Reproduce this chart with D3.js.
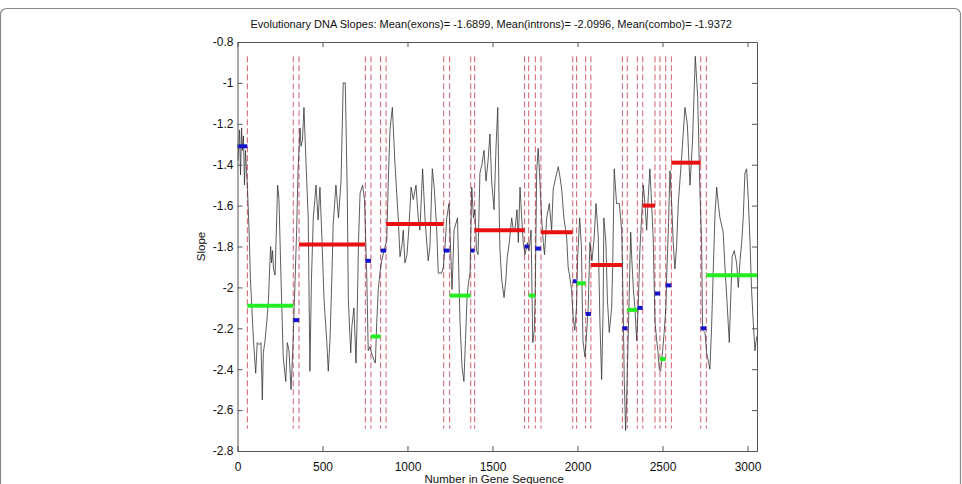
<!DOCTYPE html>
<html>
<head>
<meta charset="utf-8">
<script src="https://cdn.jsdelivr.net/npm/d3@7"></script>
<style>
  body { margin: 0; background: #fff; }
  svg { display: block; font-family: "Liberation Sans", Arial, sans-serif; }
</style>
</head>
<body>
<script>
// slope trace (position in gene sequence, slope)
var seqPos = [3, 12, 18, 24, 29, 35, 41, 47, 53, 59, 68, 76, 85, 94, 107, 116, 126, 138, 146, 152,
  162, 172, 182, 191, 195, 200, 206, 212, 221, 236, 244, 256, 269, 284, 293, 303, 315, 325, 335, 348,
  356, 368, 374, 382, 391, 403, 416, 426, 435, 446, 462, 474, 485, 497, 509, 525, 534, 544, 554, 563,
  579, 594, 609, 622, 634, 646, 652, 666, 673, 685, 697, 703, 712, 721, 736, 747, 760, 769, 779, 788,
  805, 811, 819, 828, 838, 848, 862, 878, 887, 897, 911, 926, 946, 956, 968, 975, 985, 997, 1009, 1021,
  1034, 1050, 1063, 1073, 1089, 1103, 1113, 1122, 1132, 1146, 1158, 1172, 1181, 1201, 1211, 1221, 1231, 1244, 1262, 1274,
  1294, 1309, 1321, 1332, 1341, 1350, 1358, 1368, 1378, 1388, 1397, 1406, 1415, 1426, 1438, 1450, 1462, 1474, 1485, 1495,
  1509, 1521, 1531, 1540, 1544, 1554, 1568, 1579, 1587, 1599, 1613, 1621, 1632, 1644, 1652, 1662, 1672, 1681, 1691, 1707,
  1715, 1727, 1737, 1746, 1752, 1760, 1769, 1779, 1789, 1799, 1806, 1819, 1834, 1848, 1857, 1873, 1887, 1897, 1907, 1920,
  1936, 1945, 1955, 1965, 1974, 1984, 1994, 2001, 2013, 2023, 2032, 2044, 2054, 2063, 2073, 2085, 2097, 2109, 2122, 2132,
  2142, 2151, 2155, 2167, 2176, 2187, 2201, 2207, 2216, 2230, 2246, 2260, 2269, 2275, 2283, 2289, 2298, 2313, 2320, 2329,
  2338, 2348, 2357, 2367, 2377, 2387, 2397, 2407, 2416, 2426, 2436, 2445, 2456, 2466, 2473, 2481, 2489, 2501, 2510, 2520,
  2526, 2534, 2544, 2554, 2563, 2573, 2583, 2593, 2613, 2632, 2646, 2653, 2662, 2677, 2693, 2707, 2720, 2730, 2736, 2750,
  2760, 2779, 2789, 2799, 2809, 2819, 2828, 2838, 2857, 2868, 2879, 2893, 2903, 2910, 2922, 2936, 2946, 2956, 2966, 2975,
  2985, 2995, 3005, 3015, 3024, 3034, 3044, 3054];
var slopeVals = [-1.38, -1.23, -1.45, -1.22, -1.33, -1.26, -1.50, -1.33, -1.43, -1.52, -1.72, -1.96, -2.11, -2.26, -2.42, -2.27, -2.28, -2.27, -2.55, -2.32,
  -2.26, -2.17, -2.06, -1.87, -1.80, -1.88, -1.82, -1.91, -1.94, -1.50, -1.57, -1.96, -2.34, -2.46, -2.27, -2.31, -2.50, -2.31, -2.06, -1.72,
  -1.43, -1.22, -1.31, -1.28, -1.12, -1.39, -1.66, -2.41, -1.96, -1.66, -1.50, -1.67, -1.51, -1.77, -2.06, -2.26, -2.41, -2.26, -1.98, -1.69,
  -1.50, -1.66, -1.48, -1.00, -1.00, -1.56, -2.06, -2.32, -2.19, -2.10, -2.37, -2.18, -1.77, -1.54, -1.50, -1.57, -1.93, -2.31, -2.29, -2.32,
  -2.36, -2.37, -2.17, -2.01, -1.93, -1.87, -1.82, -1.77, -1.48, -1.23, -1.12, -1.39, -1.67, -1.85, -1.79, -1.72, -1.88, -1.84, -1.70, -1.51,
  -1.57, -1.50, -1.66, -1.72, -1.42, -1.66, -1.78, -1.87, -1.80, -1.42, -1.52, -1.72, -1.93, -1.93, -1.90, -1.80, -1.66, -1.59, -2.01, -1.72,
  -1.66, -2.17, -2.39, -2.46, -2.26, -2.06, -1.98, -1.93, -1.51, -1.66, -1.62, -1.82, -1.84, -1.44, -1.40, -1.33, -1.48, -1.38, -1.25, -1.48,
  -1.62, -1.31, -1.12, -1.66, -1.82, -1.96, -2.05, -1.96, -1.85, -1.78, -1.66, -1.71, -1.72, -1.62, -1.78, -1.51, -1.66, -1.78, -1.84, -1.78,
  -1.82, -1.72, -2.27, -2.21, -2.00, -1.43, -1.32, -1.48, -1.66, -1.78, -1.84, -1.66, -1.59, -1.72, -1.52, -1.46, -1.41, -1.46, -1.52, -1.66,
  -1.75, -1.90, -1.95, -2.01, -2.14, -2.21, -2.10, -1.85, -1.66, -1.80, -2.26, -2.34, -2.22, -2.10, -1.78, -1.87, -1.77, -1.59, -1.75, -2.17,
  -2.45, -2.10, -1.66, -1.78, -2.06, -2.22, -2.10, -1.90, -1.42, -1.59, -1.59, -1.72, -2.10, -2.45, -2.70, -2.55, -2.26, -1.73, -1.87, -2.01,
  -2.10, -2.26, -2.10, -1.82, -1.66, -1.50, -1.59, -1.72, -1.56, -1.42, -1.59, -1.75, -2.17, -2.26, -2.31, -2.40, -2.41, -2.31, -2.22, -2.10,
  -1.91, -1.73, -1.43, -1.59, -1.78, -1.91, -1.80, -1.59, -1.36, -1.12, -1.20, -1.33, -1.50, -1.28, -0.87, -1.07, -1.52, -1.78, -2.21, -2.22,
  -2.32, -2.40, -2.19, -1.91, -1.64, -1.51, -1.59, -1.66, -1.73, -1.91, -2.06, -2.27, -2.01, -1.85, -1.82, -1.88, -2.00, -1.87, -1.78, -1.66,
  -1.44, -1.42, -1.57, -1.78, -2.01, -2.17, -2.31, -2.24];

// segment means: exons (red), introns (green), junctions (blue)
var exonStart = [362, 874, 1395, 1785, 2079, 2384, 2552];
var exonEnd = [752, 1213, 1689, 1972, 2264, 2456, 2725];
var exonMean = [-1.79, -1.69, -1.72, -1.73, -1.89, -1.60, -1.39];

var intronStart = [58, 785, 1248, 1713, 1995, 2293, 2485, 2758];
var intronEnd = [328, 842, 1372, 1752, 2048, 2352, 2519, 3056];
var intronMean = [-2.09, -2.24, -2.04, -2.04, -1.98, -2.11, -2.35, -1.94];

var junctionStart = [0, 328, 752, 842, 1213, 1372, 1689, 1752, 1972, 2048, 2264, 2352, 2456, 2519, 2725];
var junctionEnd = [58, 362, 785, 874, 1248, 1395, 1713, 1785, 1995, 2079, 2293, 2384, 2485, 2552, 2758];
var junctionMean = [-1.31, -2.16, -1.87, -1.82, -1.82, -1.82, -1.80, -1.81, -1.97, -2.13, -2.20, -2.10, -2.03, -1.99, -2.20];

// boundaries (dashed)
var boundaries = [58, 328, 362, 752, 785, 842, 874, 1213, 1248, 1372, 1395, 1689, 1713, 1752, 1785,
  1972, 1995, 2048, 2079, 2264, 2293, 2352, 2384, 2456, 2485, 2519, 2552, 2725, 2758];
var boundaryTop = -0.87, boundaryBottom = -2.69;

var xTicks = [0, 500, 1000, 1500, 2000, 2500, 3000];
var yTicks = [-2.8, -2.6, -2.4, -2.2, -2, -1.8, -1.6, -1.4, -1.2, -1, -0.8];

var titleText = "Evolutionary DNA Slopes: Mean(exons)= -1.6899, Mean(introns)= -2.0996, Mean(combo)= -1.9372";

var W = 962, H = 484;
var margin = {left: 237.5, top: 42, right: 962 - 757, bottom: 484 - 451};
var w = W - margin.left - margin.right, h = H - margin.top - margin.bottom;

var svg = d3.select("body").append("svg")
  .attr("width", W)
  .attr("height", H);

// outer frame
svg.append("rect")
  .attr("x", 0.5).attr("y", 8.5)
  .attr("width", 960).attr("height", 520)
  .attr("rx", 6)
  .attr("fill", "none")
  .attr("stroke", "#8a8a8a")
  .attr("stroke-width", 1.2);

var g = svg.append("g")
  .attr("transform", "translate(" + margin.left + "," + margin.top + ")");

var x = d3.scaleLinear().domain([0, 3056]).range([0, w]);
var y = d3.scaleLinear().domain([-2.8, -0.8]).range([h, 0]);

var fmt = function(d) { return String(+d.toFixed(1)); };

// dashed boundaries
g.selectAll(".bound")
  .data(boundaries)
  .enter().append("line")
    .attr("class", "bound")
    .attr("x1", d => x(d)).attr("x2", d => x(d))
    .attr("y1", y(boundaryTop)).attr("y2", y(boundaryBottom))
    .attr("stroke", "#cc4d5e")
    .attr("stroke-width", 0.9)
    .attr("stroke-dasharray", "6,3");

// slope trace
var pts = seqPos.map((p, i) => [p, slopeVals[i]]);
g.append("path")
  .datum(pts)
  .attr("fill", "none")
  .attr("stroke", "#333")
  .attr("stroke-width", 0.8)
  .attr("d", d3.line().x(d => x(d[0])).y(d => y(d[1])));

function bars(starts, ends, means, colour) {
  g.append("g").selectAll("line")
    .data(means)
    .enter().append("line")
      .attr("x1", (d, i) => x(starts[i]))
      .attr("x2", (d, i) => x(ends[i]))
      .attr("y1", d => y(d))
      .attr("y2", d => y(d))
      .attr("stroke", colour)
      .attr("stroke-width", 4);
}
bars(exonStart, exonEnd, exonMean, "#e81010");
bars(intronStart, intronEnd, intronMean, "#22ee22");
bars(junctionStart, junctionEnd, junctionMean, "#1414cc");

// axes (box with inward ticks)
function styleAxis(sel) {
  sel.select(".domain").attr("stroke", "#555");
  sel.selectAll(".tick line").attr("stroke", "#555");
  sel.selectAll("text").attr("fill", "#111").style("font-size", "12px")
    .style("font-family", '"Liberation Sans", Arial, sans-serif');
}

g.append("g")
  .attr("transform", "translate(0," + h + ")")
  .call(d3.axisBottom(x).tickValues(xTicks).tickSizeInner(-5).tickSizeOuter(0).tickPadding(11).tickFormat(fmt))
  .call(styleAxis);
g.append("g")
  .call(d3.axisTop(x).tickValues(xTicks).tickSizeInner(-5).tickSizeOuter(0).tickFormat(""))
  .call(styleAxis);
g.append("g")
  .call(d3.axisLeft(y).tickValues(yTicks).tickSizeInner(-5).tickSizeOuter(0).tickPadding(4).tickFormat(fmt))
  .call(styleAxis);
g.append("g")
  .attr("transform", "translate(" + w + ",0)")
  .call(d3.axisRight(y).tickValues(yTicks).tickSizeInner(-5).tickSizeOuter(0).tickFormat(""))
  .call(styleAxis);

// title and labels
svg.append("text")
  .attr("x", margin.left + w / 2 - 6)
  .attr("y", 28)
  .attr("text-anchor", "middle")
  .style("font-size", "11px")
  .attr("fill", "#111")
  .text(titleText);

svg.append("text")
  .attr("x", margin.left + w / 2 - 3)
  .attr("y", 483)
  .attr("text-anchor", "middle")
  .style("font-size", "11.5px")
  .attr("fill", "#111")
  .text("Number in Gene Sequence");

svg.append("text")
  .attr("transform", "translate(205," + (margin.top + h / 2) + ") rotate(-90)")
  .attr("text-anchor", "middle")
  .style("font-size", "11.5px")
  .attr("fill", "#111")
  .text("Slope");
</script>
</body>
</html>
